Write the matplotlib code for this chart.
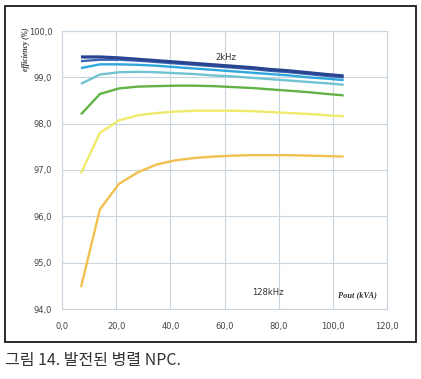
import matplotlib.pyplot as plt
from matplotlib.patches import Rectangle
import numpy as np

# ---------------------------------------------------------------
# data
# ---------------------------------------------------------------
pout = [7, 14, 21, 28, 35, 42, 49, 56, 63, 70, 77, 84, 91, 98, 104]

eff_navy = [99.44, 99.44, 99.42, 99.39, 99.36, 99.33, 99.30, 99.27, 99.24, 99.21, 99.17, 99.14, 99.10, 99.06, 99.03]
eff_blue = [99.35, 99.38, 99.38, 99.36, 99.33, 99.30, 99.27, 99.24, 99.21, 99.18, 99.14, 99.11, 99.07, 99.03, 99.00]
eff_sky = [99.20, 99.28, 99.28, 99.27, 99.25, 99.22, 99.19, 99.16, 99.13, 99.10, 99.07, 99.04, 99.00, 98.97, 98.94]
eff_cyan = [98.86, 99.06, 99.11, 99.12, 99.11, 99.09, 99.07, 99.04, 99.02, 98.99, 98.96, 98.93, 98.90, 98.87, 98.84]
eff_green = [98.20, 98.64, 98.76, 98.80, 98.81, 98.82, 98.82, 98.81, 98.79, 98.77, 98.74, 98.71, 98.68, 98.64, 98.61]
eff_yellow = [96.93, 97.80, 98.07, 98.18, 98.23, 98.26, 98.28, 98.28, 98.28, 98.27, 98.25, 98.23, 98.21, 98.18, 98.16]
eff_orange = [94.47, 96.15, 96.70, 96.95, 97.12, 97.21, 97.26, 97.29, 97.31, 97.32, 97.32, 97.32, 97.31, 97.30, 97.29]

series = [
    (eff_orange, "#f2c04e", 1.7),
    (eff_yellow, "#eeea6a", 1.7),
    (eff_green, "#62b246", 1.7),
    (eff_cyan, "#72c3d2", 1.7),
    (eff_sky, "#2fa6dc", 1.7),
    (eff_blue, "#3d66b4", 1.7),
    (eff_navy, "#2a4590", 2.3),
]

x_ticks = [0, 20, 40, 60, 80, 100, 120]
y_ticks = [94, 95, 96, 97, 98, 99, 100]

# ---------------------------------------------------------------
# figure
# ---------------------------------------------------------------
fig = plt.figure(figsize=(4.21, 3.79), dpi=100)
ax = fig.add_axes([62 / 421, 1 - 309 / 379, 325 / 421, 278 / 379])

for vals, col, lw in series:
    ax.plot(pout, vals, color=col, lw=lw, solid_capstyle="butt", zorder=3)

ax.set_xlim(0, 120)
ax.set_ylim(94, 100)
ax.set_xticks(x_ticks)
ax.set_yticks(y_ticks)
ax.set_xticklabels([f"{v:.1f}".replace(".", ",") for v in x_ticks])
ax.set_yticklabels([f"{v:.1f}".replace(".", ",") for v in y_ticks])
ax.tick_params(length=0, labelsize=6, labelcolor="#444444")
ax.tick_params(axis="x", pad=9)
ax.tick_params(axis="y", pad=7)
ax.grid(True, color="#c9d5de", lw=0.8)
ax.set_axisbelow(True)
for s in ax.spines.values():
    s.set_color("#c9d5de")
    s.set_linewidth(0.8)

ax.text(60.5, 99.42, "2kHz", fontsize=6, color="#333333", ha="center", va="center")
ax.text(76, 94.36, "128kHz", fontsize=6, color="#333333", ha="center", va="center")
ax.text(109, 94.3, "Pout (kVA)", fontsize=6, color="#333333", ha="center", va="center",
        family="Liberation Serif", style="italic", weight="bold")
fig.text(26 / 421, 1 - 49 / 379, "efficiency (%)", fontsize=5.5, color="#333333",
         rotation=90, ha="center", va="center",
         family="Liberation Serif", style="italic", weight="bold")

# outer frame
fig.patches.append(Rectangle((5 / 421, 1 - 342 / 379), 411 / 421, 336 / 379,
                             transform=fig.transFigure, fill=False,
                             edgecolor="#1a1a1a", lw=1.3))

fig.text(5 / 421, 1 - 361 / 379, "그림 14. 발전된 병렬 NPC.", fontsize=11.5,
         color="#333333", ha="left", va="center",
         family=["Noto Sans CJK KR", "DejaVu Sans"])

fig.savefig("out.png", dpi=100)
